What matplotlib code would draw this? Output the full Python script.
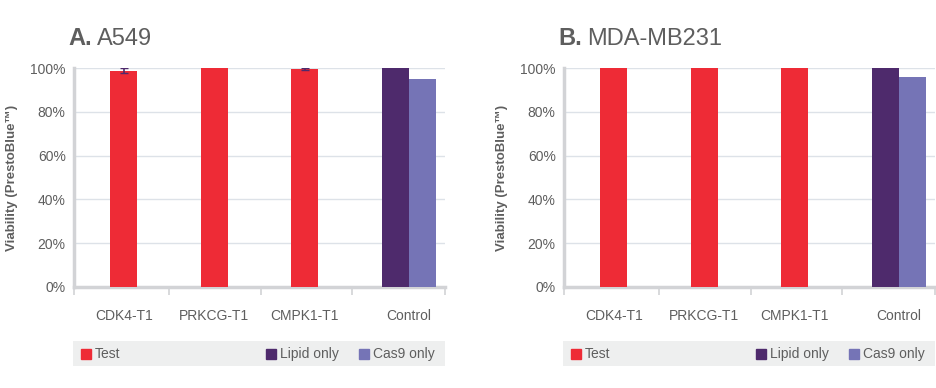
import matplotlib

matplotlib.use("Agg")

import matplotlib.pyplot as plt
from matplotlib.patches import Rectangle
from matplotlib.ticker import FuncFormatter

plt.rcParams["font.family"] = ["Liberation Sans", "DejaVu Sans"]

# data
categories = ["CDK4-T1", "PRKCG-T1", "CMPK1-T1", "Control"]
panels = [("A.", "A549"), ("B.", "MDA-MB231")]
test_values = [[98.8, 99.8, 99.4], [100.0, 100.0, 100.0]]
test_errors = [[1.0, 0.0, 0.4], [0.0, 0.0, 0.0]]
lipid_values = [100.0, 100.0]
cas9_values = [95.2, 95.8]
legend_labels = ["Test", "Lipid only", "Cas9 only"]

RED = "#EE2B36"
LIPID = "#4E2A6C"
CAS9 = "#7574B6"
TXT = "#5E5E5E"
SPINE = "#D2D3D6"
GRID = "#DDE2E8"

W, H = 936, 388
fig = plt.figure(figsize=(W / 100, H / 100), dpi=100)
fig.patch.set_facecolor("white")

test_pos = [0, 1, 2]
ctrl_pos = 3.15
bw = 0.30

for k, (letter, name) in enumerate(panels):
    x0 = [74, 564][k]
    ax = fig.add_axes([x0 / W, (H - 287) / H, 371 / W, 219 / H])
    ax.bar(test_pos, test_values[k], width=bw, color=RED, zorder=3)
    # error bars only where there is a visible error
    ex = [p for p, e in zip(test_pos, test_errors[k]) if e > 0]
    ey = [v for v, e in zip(test_values[k], test_errors[k]) if e > 0]
    ee = [e for e in test_errors[k] if e > 0]
    if ex:
        ax.errorbar(ex, ey, yerr=ee, fmt="none", ecolor=LIPID, elinewidth=1.2,
                    capsize=3, zorder=4)
    ax.bar(ctrl_pos - bw / 2, lipid_values[k], width=bw, color=LIPID, zorder=3)
    ax.bar(ctrl_pos + bw / 2, cas9_values[k], width=bw, color=CAS9, zorder=3)

    ax.set_xlim(-0.55, 3.55)
    ax.set_ylim(0, 100)
    ax.set_yticks([0, 20, 40, 60, 80, 100])
    ax.yaxis.set_major_formatter(FuncFormatter(lambda v, p: f"{v:.0f}%"))
    ax.set_xticks(test_pos + [ctrl_pos])
    ax.set_xticklabels(categories)
    ax.set_xticks([-0.55, 0.5, 1.52, 2.52, 3.55], minor=True)
    ax.tick_params(axis="x", which="major", length=0, pad=16, labelsize=10, labelcolor=TXT)
    ax.tick_params(axis="x", which="minor", length=6, width=1.2, color=SPINE)
    ax.tick_params(axis="y", length=0, pad=6, labelsize=10, labelcolor=TXT)
    ax.grid(True, axis="y", color=GRID, linewidth=1.0, zorder=0)
    ax.set_axisbelow(True)
    for s in ["top", "right"]:
        ax.spines[s].set_visible(False)
    for s in ["left", "bottom"]:
        ax.spines[s].set_color(SPINE)
        ax.spines[s].set_linewidth(2.5)
    ax.set_ylabel("Viability (PrestoBlue\u2122)", fontsize=9.5, fontweight="bold",
                  color=TXT, labelpad=9)

    # title
    t = fig.text((x0 - 6) / W, (H - 45) / H, letter, fontsize=17, fontweight="bold",
                 color=TXT, ha="left", va="baseline")
    ax.annotate(name, xy=(1, 0), xycoords=t, xytext=(4, 0), textcoords="offset points",
                fontsize=17, color=TXT, ha="left", va="bottom")

    # legend strip
    lax = fig.add_axes([(x0 - 1) / W, (H - 366) / H, 372 / W, 25 / H])
    lax.set_facecolor("#EEEFEF")
    lax.set_xlim(0, 1)
    lax.set_ylim(0, 1)
    for s in lax.spines.values():
        s.set_visible(False)
    lax.set_xticks([])
    lax.set_yticks([])
    for lab, col, lx in zip(legend_labels, [RED, LIPID, CAS9], [0.022, 0.52, 0.77]):
        lax.add_patch(Rectangle((lx, 0.28), 10 / 372, 0.42, color=col))
        lax.text(lx + 14 / 372, 0.47, lab, fontsize=10, color=TXT, va="center", ha="left")

fig.savefig("out.png", dpi=100, facecolor="white")
